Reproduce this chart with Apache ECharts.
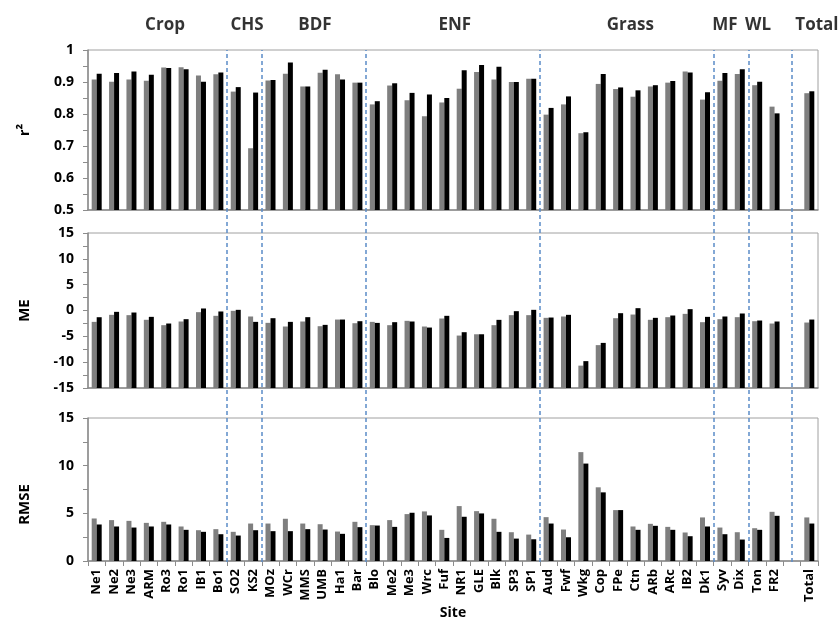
<!DOCTYPE html>
<html><head><meta charset="utf-8">
<script src="https://cdn.jsdelivr.net/npm/echarts@6/dist/echarts.min.js"></script>
<style>html,body{margin:0;padding:0;background:#fff}#c{width:840px;height:621px}</style>
</head><body><div id="c"></div>
<script>
// ---- data ----
const sites = ['Ne1','Ne2','Ne3','ARM','Ro3','Ro1','IB1','Bo1','SO2','KS2','MOz','WCr','MMS','UMB','Ha1','Bar','Blo','Me2','Me3','Wrc','Fuf','NR1','GLE','Blk','SP3','SP1','Aud','Fwf','Wkg','Cop','FPe','Ctn','ARb','ARc','IB2','Dk1','Syv','Dix','Ton','FR2','','Total'];

const r2Gray  = [0.908,0.901,0.908,0.904,0.945,0.946,0.920,0.924, 0.870,0.693, 0.905,0.926,0.886,0.929,0.924,0.898, 0.830,0.889,0.843,0.793,0.836,0.879,0.931,0.908,0.900,0.910, 0.798,0.830,0.740,0.894,0.878,0.854,0.886,0.898,0.933,0.845, 0.904,0.925, 0.890,0.823, null, 0.865];
const r2Black = [0.926,0.928,0.933,0.923,0.944,0.940,0.901,0.930, 0.884,0.867, 0.906,0.961,0.886,0.938,0.908,0.898, 0.840,0.896,0.866,0.861,0.850,0.937,0.953,0.948,0.900,0.910, 0.819,0.855,0.743,0.925,0.883,0.874,0.890,0.903,0.930,0.868, 0.928,0.940, 0.901,0.802, null, 0.871];

const meGray  = [-2.2,-0.84,-0.9,-1.8,-2.84,-2.13,-0.32,-1.03, -0.06,-1.16, -2.39,-3.1,-2.13,-3.04,-1.75,-2.46, -2.2,-2.84,-2.0,-3.1,-1.55,-4.85,-4.6,-2.84,-0.9,-0.9, -1.42,-1.16,-10.67,-6.7,-1.49,-0.78,-1.8,-1.29,-0.65,-2.26, -1.68,-1.29, -2.07,-2.52, null, -2.33];
const meBlack = [-1.3,-0.26,-0.39,-1.23,-2.52,-1.68,0.39,-0.19, 0.13,-2.2, -1.49,-2.2,-1.29,-2.78,-1.75,-2.07, -2.4,-2.26,-2.13,-3.3,-1.03,-4.2,-4.6,-1.81,-0.13,0.13, -1.36,-0.84,-9.8,-6.27,-0.52,0.45,-1.42,-0.97,0.26,-1.23, -1.16,-0.58, -1.94,-2.13, null, -1.75];

const rmseGray  = [4.46,4.29,4.21,4.0,4.11,3.62,3.23,3.34, 3.06,3.93, 3.93,4.43,3.93,3.86,3.09,4.11, 3.76,4.29,4.92,5.2,3.27,5.76,5.23,4.43,3.02,2.77, 4.6,3.3,11.42,7.73,5.34,3.62,3.9,3.58,2.99,4.57, 3.51,3.02, 3.44,5.16, null, 4.57];
const rmseBlack = [3.83,3.62,3.51,3.62,3.83,3.27,3.06,2.81, 2.67,3.23, 3.13,3.13,3.34,3.3,2.85,3.55, 3.72,3.58,5.06,4.78,2.42,4.64,4.99,3.06,2.35,2.28, 3.93,2.49,10.22,7.2,5.34,3.27,3.69,3.27,2.6,3.62, 2.81,2.25, 3.27,4.74, null, 3.93];

const groupNames   = ['Crop','CHS','BDF','ENF','Grass','MF','WL','Total'];
const groupLabelAt = [4.43, 9.15, 13.06, 21.1, 31.2, 36.65, 38.55, 41.94]; // in category units
const dividers     = [8, 10, 16, 26, 36, 38, 40.5];

// ---- chart ----
const FONT = '"Open Sans", Lato, sans-serif';
const AX = '#8c8c8c';
const GRAY = '#7f7f7f';
const L = 88, R = 22;
const grids = [
  {left: L, right: R, top: 50, height: 160},
  {left: L, right: R, top: 233, height: 155},
  {left: L, right: R, top: 418, height: 143},
  {left: L, right: R, top: 50, bottom: 59}
].map(g => Object.assign({show: g.height !== undefined, borderColor: '#a0a0a0', borderWidth: 1}, g));

function xCat(i) {
  const last = i === 2;
  return {
    type: 'category', gridIndex: i, data: sites,
    axisLine: {show: true, onZero: false, lineStyle: {color: AX, width: 1.5}},
    axisTick: {show: last, alignWithLabel: false, length: 5, lineStyle: {color: AX}},
    axisLabel: {show: last, interval: 0, rotate: 90, margin: 8, fontFamily: FONT, fontWeight: 'bold', fontSize: 13, color: '#000'},
    name: last ? 'Site' : '', nameLocation: 'middle', nameGap: 44,
    nameTextStyle: {fontFamily: FONT, fontWeight: 'bold', fontSize: 14, color: '#000'}
  };
}
function yVal(i, name, min, max, interval, extra) {
  return Object.assign({
    type: 'value', gridIndex: i, min, max, interval,
    splitLine: {show: false},
    axisLine: {show: true, lineStyle: {color: AX, width: 1.5}},
    axisTick: {show: true, length: 5, lineStyle: {color: AX}},
    minorTick: {show: true, splitNumber: 2, length: 5, lineStyle: {color: AX}},
    axisLabel: {margin: 14, fontFamily: FONT, fontWeight: 'bold', fontSize: 14, color: '#000'},
    name, nameLocation: 'middle', nameGap: 56, nameRotate: 90,
    nameTextStyle: {fontFamily: FONT, fontWeight: 'bold', fontSize: 15, color: '#000'}
  }, extra || {});
}
function bars(i, data, color) {
  return {type: 'bar', xAxisIndex: i, yAxisIndex: i, data, barWidth: 5, barGap: '0%',
          itemStyle: {color}, clip: true, silent: true};
}

const option = {
  animation: false,
  backgroundColor: '#fff',
  grid: grids,
  xAxis: [xCat(0), xCat(1), xCat(2),
    {type: 'value', gridIndex: 3, min: 0, max: sites.length, show: false}],
  yAxis: [
    yVal(0, 'r²', 0.5, 1, 0.1, {startValue: 0.5}),
    yVal(1, 'ME', -15, 15, 5, {startValue: -15}),
    yVal(2, 'RMSE', 0, 15, 5, {nameTextStyle: {fontFamily: FONT, fontWeight: 'bold', fontSize: 15, color: '#000', padding: [0, 30, 0, 0]}}),
    {type: 'value', gridIndex: 3, min: 0, max: 1, show: false}
  ],
  series: [
    bars(0, r2Gray, GRAY), bars(0, r2Black, '#000'),
    bars(1, meGray, GRAY), bars(1, meBlack, '#000'),
    bars(2, rmseGray, GRAY), bars(2, rmseBlack, '#000'),
    {
      type: 'scatter', xAxisIndex: 3, yAxisIndex: 3, clip: false, silent: true,
      symbolSize: 0, z: 10,
      data: groupNames.map((n, k) => ({value: [groupLabelAt[k], 1], name: n})),
      label: {show: true, position: 'inside', offset: [0, -25], formatter: p => p.name,
              fontFamily: FONT, fontWeight: 'bold', fontSize: 17, color: '#000'},
      markLine: {
        silent: true, symbol: 'none', label: {show: false},
        lineStyle: {type: [4, 3], color: '#5b8cc8', width: 1.5},
        data: dividers.map(d => ({xAxis: d}))
      }
    }
  ]
};
const chart = echarts.init(document.getElementById('c'), null, {renderer: 'canvas'});
chart.setOption(option);
</script></body></html>
